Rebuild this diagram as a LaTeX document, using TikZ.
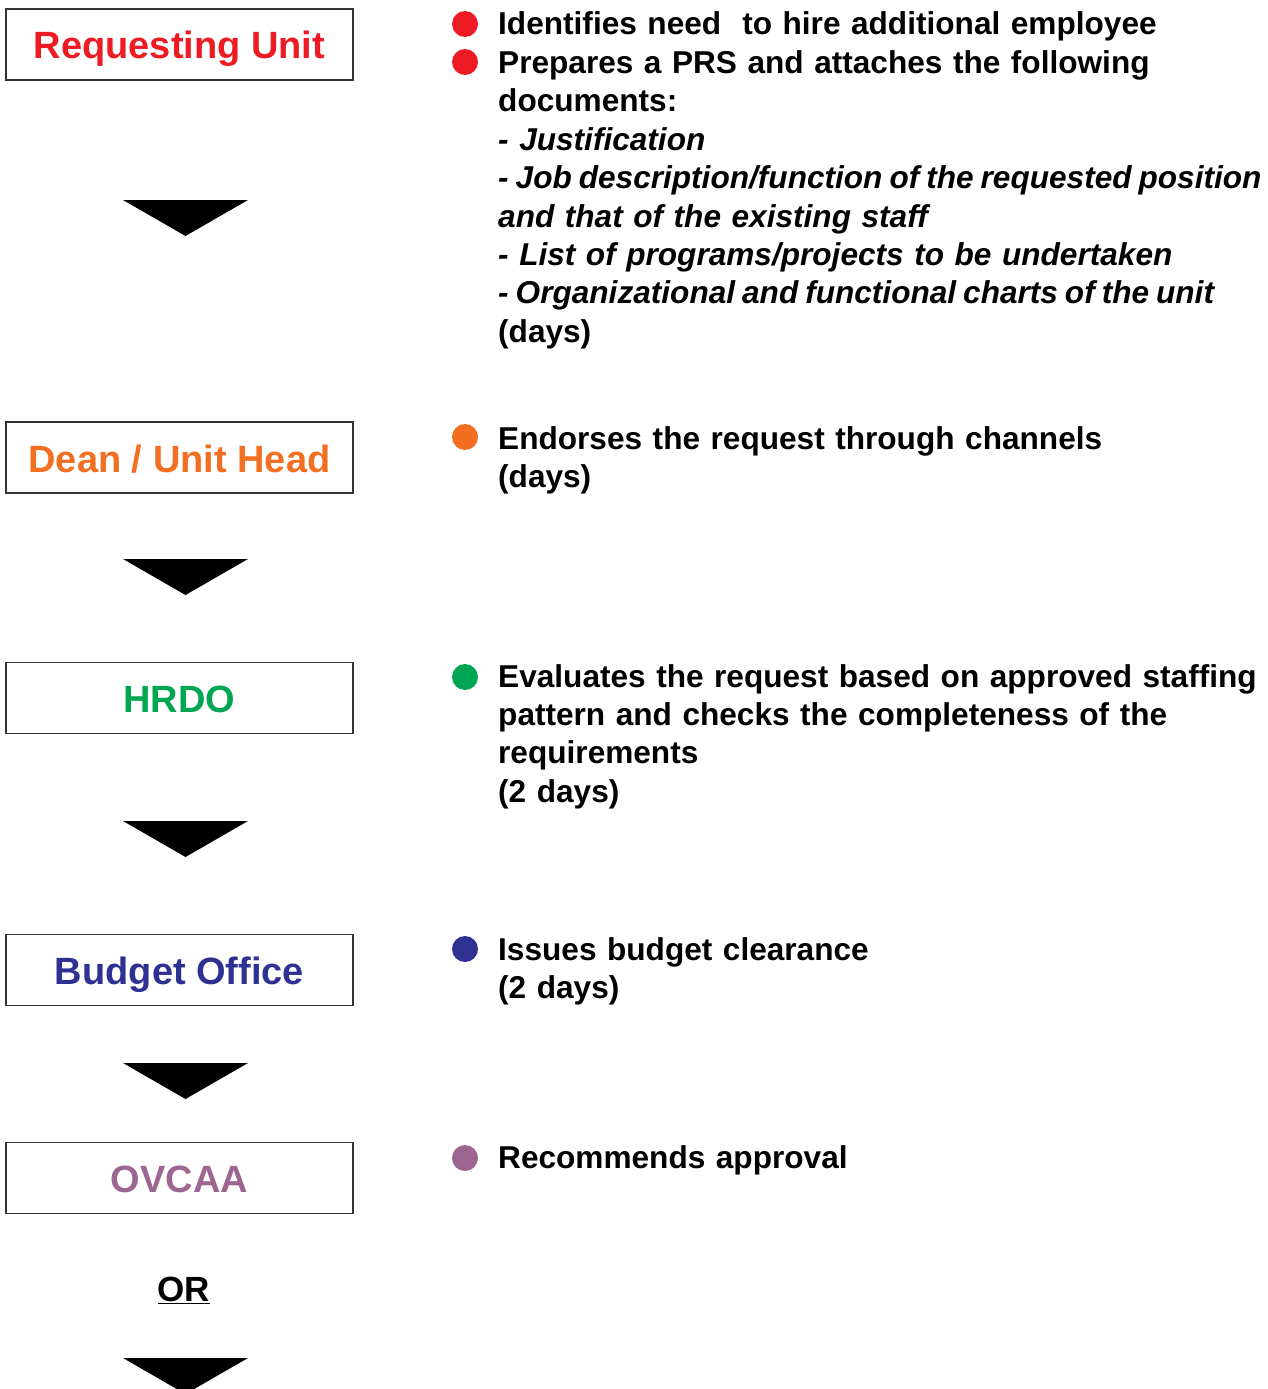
\documentclass[tikz,border=0pt]{standalone}
\usepackage{fontspec}
\setmainfont{Liberation Sans}
\usetikzlibrary{positioning}
\definecolor{ReqRed}{HTML}{ED1C24}
\definecolor{DeanOrange}{HTML}{F26F21}
\definecolor{HrdoGreen}{HTML}{00A651}
\definecolor{BudgetBlue}{HTML}{2E3192}
\definecolor{OvcaaPurple}{HTML}{9C6690}
\definecolor{BoxLine}{HTML}{333333}
\newcommand{\tightdoc}[1]{{\spaceskip=0.22em\textit{#1}}}

\begin{document}
\begin{tikzpicture}[x=1pt, y=-1pt,
    officebox/.style={draw=BoxLine, line width=1.3pt, minimum width=347pt, minimum height=71pt, inner sep=0pt, text height=29pt, text depth=0pt, font=\fontsize{38}{40}\selectfont\bfseries},
    dot/.style={circle, fill=#1, minimum size=26pt, inner sep=0pt},
    steptext/.style={anchor=base west, inner sep=0pt, text width=800pt, align=left, font=\fontsize{31.6}{38.4}\selectfont\bfseries}]
    \useasboundingbox (0,0) rectangle (1267,1389);
    % offices on the left
    \node[officebox, text=ReqRed] (req) at (179.5, 44.5) {Requesting Unit};
    \node[officebox, text=DeanOrange] (dean) at (179.5, 457.5) {Dean / Unit Head};
    \node[officebox, text=HrdoGreen] (hrdo) at (179.5, 698) {HRDO};
    \node[officebox, text=BudgetBlue] (budget) at (179.5, 970) {Budget Office};
    \node[officebox, text=OvcaaPurple] (ovcaa) at (179.5, 1178) {OVCAA};
    \node[anchor=base, inner sep=0pt, font=\fontsize{35}{38}\selectfont\bfseries] (or) at (184, 1301) {\underline{OR}};
    % down arrows
    \foreach \ty in {200, 559, 821, 1063, 1358}
        \fill (123, \ty) -- (248, \ty) -- (185.5, \ty+36) -- cycle;
    % bullets
    \node[dot=ReqRed] (b1) at (465, 24) {};
    \node[dot=ReqRed] (b2) at (465, 62) {};
    \node[dot=DeanOrange] (b3) at (465, 437) {};
    \node[dot=HrdoGreen] (b4) at (465, 677) {};
    \node[dot=BudgetBlue] (b5) at (465, 949) {};
    \node[dot=OvcaaPurple] (b6) at (465, 1158) {};
    % descriptions
    \node[steptext] (reqtxt) at (498, 35) {Identifies need \ to hire additional employee\\
        Prepares a PRS and attaches the following\\
        documents:\\
        \textit{- Justification}\\
        \tightdoc{- Job description/function of the requested position}\\
        \textit{and that of the existing staff}\\
        \textit{- List of programs/projects to be undertaken}\\
        \tightdoc{- Organizational and functional charts of the unit}\\
        (days)};
    \node[steptext] (deantxt) at (498, 449) {Endorses the request through channels\\
        (days)};
    \node[steptext] (hrdotxt) at (498, 687) {Evaluates the request based on approved staffing\\
        pattern and checks the completeness of the\\
        requirements\\
        (2 days)};
    \node[steptext] (budgettxt) at (498, 960) {Issues budget clearance\\
        (2 days)};
    \node[steptext] (ovcaatxt) at (498, 1168) {Recommends approval};
\end{tikzpicture}
\end{document}
